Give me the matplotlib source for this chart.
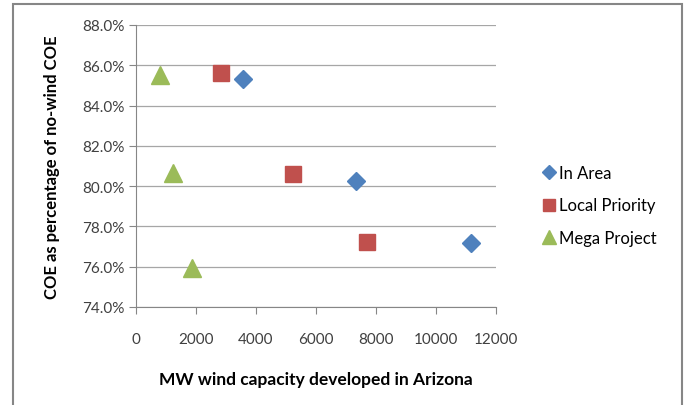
import matplotlib
matplotlib.use("Agg")
import matplotlib.pyplot as plt
from matplotlib.patches import Rectangle
from matplotlib.ticker import PercentFormatter

# data
in_area_x = [3570, 7330, 11170]
in_area_y = [85.3, 80.25, 77.2]
local_x = [2830, 5230, 7700]
local_y = [85.6, 80.6, 77.25]
mega_x = [800, 1230, 1870]
mega_y = [85.5, 80.65, 75.95]

plt.rcParams["font.family"] = ["Lato", "DejaVu Sans"]

fig = plt.figure(figsize=(6.86, 4.06), dpi=100)
ax = fig.add_axes([136 / 686, 1 - 308 / 406, 360 / 686, 282 / 406])

ax.plot(in_area_x, in_area_y, "D", color="#4F81BD", markersize=9, label="In Area")
ax.plot(local_x, local_y, "s", color="#C0504D", markersize=12, label="Local Priority")
ax.plot(mega_x, mega_y, "^", color="#9BBB59", markersize=13, label="Mega Project")

ax.set_xlim(0, 12000)
ax.set_ylim(74, 88)
ax.set_xticks(range(0, 12001, 2000))
ax.set_yticks(range(74, 89, 2))
ax.yaxis.set_major_formatter(PercentFormatter(decimals=1))
ax.grid(axis="y", color="#A6A6A6", linewidth=0.9)
ax.set_axisbelow(True)
for s in ["top", "right"]:
    ax.spines[s].set_visible(False)
for s in ["left", "bottom"]:
    ax.spines[s].set_color("#868686")
ax.tick_params(colors="#868686", labelcolor="#404040", labelsize=11, length=5, direction="out")
ax.tick_params(axis="x", pad=13)

ax.set_xlabel("MW wind capacity developed in Arizona", fontsize=12.5, fontweight="bold", labelpad=18)
ax.set_ylabel("COE as percentage of no-wind COE", fontsize=12, fontweight="bold", labelpad=16)

ax.legend(loc="center left", bbox_to_anchor=(1.08, 0.36), frameon=False, fontsize=12,
          handletextpad=0.05, handlelength=1.1, labelspacing=1.0, markerscale=0.75)

fig.patches.append(Rectangle((13 / 686, -0.05), 669 / 686, 1.05 - 5 / 406, transform=fig.transFigure,
                             fill=False, edgecolor="#868686", linewidth=1.5))

fig.savefig("out.png", dpi=100)
